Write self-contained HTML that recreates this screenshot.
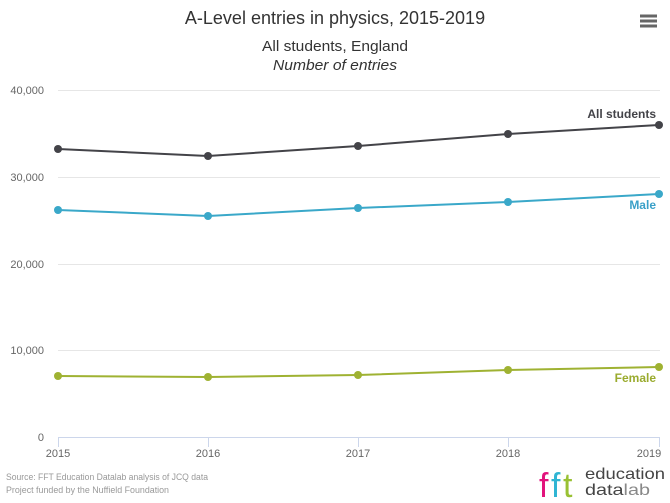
<!DOCTYPE html>
<html><head><meta charset="utf-8"><style>
html,body{margin:0;padding:0;background:#fff;}
svg{display:block;font-family:"Liberation Sans",sans-serif;}
</style></head><body>
<svg width="670" height="503" viewBox="0 0 670 503" xmlns="http://www.w3.org/2000/svg">
<rect width="670" height="503" fill="#fff"/>
<text x="335" y="24" text-anchor="middle" font-size="18" fill="#333">A-Level entries in physics, 2015-2019</text>
<text x="335" y="51" text-anchor="middle" font-size="15" fill="#333" textLength="146" lengthAdjust="spacingAndGlyphs">All students, England</text>
<text x="335" y="70" text-anchor="middle" font-size="15" font-style="italic" fill="#333" textLength="124" lengthAdjust="spacingAndGlyphs">Number of entries</text>
<g fill="#666"><rect x="640" y="14.5" width="17" height="3"/><rect x="640" y="19.5" width="17" height="3"/><rect x="640" y="24.5" width="17" height="3"/></g>
<g stroke="#e6e6e6" stroke-width="1">
<line x1="58" y1="90.5" x2="660" y2="90.5"/>
<line x1="58" y1="177.5" x2="660" y2="177.5"/>
<line x1="58" y1="264.5" x2="660" y2="264.5"/>
<line x1="58" y1="350.5" x2="660" y2="350.5"/>
</g>
<g stroke="#ccd6eb" stroke-width="1">
<line x1="58" y1="437.5" x2="660" y2="437.5"/>
<line x1="58.5" y1="437" x2="58.5" y2="447"/>
<line x1="208.5" y1="437" x2="208.5" y2="447"/>
<line x1="358.5" y1="437" x2="358.5" y2="447"/>
<line x1="508.5" y1="437" x2="508.5" y2="447"/>
<line x1="659.5" y1="437" x2="659.5" y2="447"/>
</g>
<g font-size="11" fill="#666" text-anchor="end">
<text x="44" y="94">40,000</text>
<text x="44" y="181">30,000</text>
<text x="44" y="268">20,000</text>
<text x="44" y="354">10,000</text>
<text x="44" y="441">0</text>
</g>
<g font-size="11" fill="#666" text-anchor="middle">
<text x="58" y="457">2015</text>
<text x="208" y="457">2016</text>
<text x="358" y="457">2017</text>
<text x="508" y="457">2018</text>
<text x="649" y="457">2019</text>
</g>
<polyline points="58,149 208,156 358,146 508,134 659,125" fill="none" stroke="#434348" stroke-width="2"/>
<g fill="#434348"><circle cx="58" cy="149" r="4"/><circle cx="208" cy="156" r="4"/><circle cx="358" cy="146" r="4"/><circle cx="508" cy="134" r="4"/><circle cx="659" cy="125" r="4"/></g>
<polyline points="58,210 208,216 358,208 508,202 659,194" fill="none" stroke="#3aa8c9" stroke-width="2"/>
<g fill="#3aa8c9"><circle cx="58" cy="210" r="4"/><circle cx="208" cy="216" r="4"/><circle cx="358" cy="208" r="4"/><circle cx="508" cy="202" r="4"/><circle cx="659" cy="194" r="4"/></g>
<polyline points="58,376 208,377 358,375 508,370 659,367" fill="none" stroke="#9fb232" stroke-width="2"/>
<g fill="#9fb232"><circle cx="58" cy="376" r="4"/><circle cx="208" cy="377" r="4"/><circle cx="358" cy="375" r="4"/><circle cx="508" cy="370" r="4"/><circle cx="659" cy="367" r="4"/></g>
<text x="656" y="118" text-anchor="end" font-size="12" font-weight="bold" fill="#434348">All students</text>
<text x="656" y="209" text-anchor="end" font-size="12" font-weight="bold" fill="#3aa0c8">Male</text>
<text x="656" y="382" text-anchor="end" font-size="12" font-weight="bold" fill="#9aab2e">Female</text>
<g font-size="9" fill="#999">
<text x="6" y="480" textLength="202" lengthAdjust="spacingAndGlyphs">Source: FFT Education Datalab analysis of JCQ data</text>
<text x="6" y="493" textLength="163" lengthAdjust="spacingAndGlyphs">Project funded by the Nuffield Foundation</text>
</g>
<g font-size="34">
<text x="539" y="497" fill="#e2137c">f</text>
<text x="551" y="497" fill="#2fb5d3">f</text>
<text x="563" y="497" fill="#99c133">t</text>
</g>
<text x="585" y="479" font-size="16" fill="#444" textLength="80" lengthAdjust="spacingAndGlyphs">education</text>
<text x="585" y="495" font-size="16" fill="#444" textLength="65" lengthAdjust="spacingAndGlyphs"><tspan>data</tspan><tspan fill="#888">lab</tspan></text>
</svg>
</body></html>
